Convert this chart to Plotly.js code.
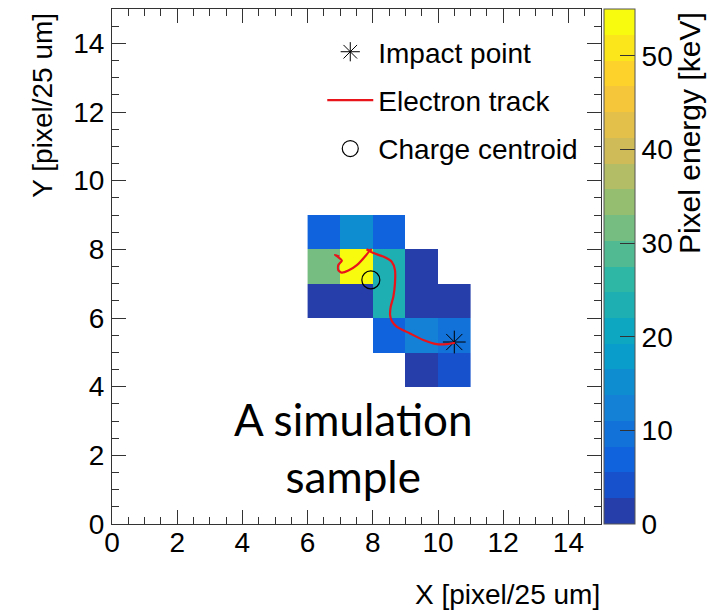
<!DOCTYPE html>
<html>
<head>
<meta charset="utf-8">
<script src="https://cdn.plot.ly/plotly-3.0.1.min.js"></script>
<style>html,body{margin:0;padding:0;background:#fff;}#chart{width:710px;height:611px;}</style>
</head>
<body>
<div id="chart"></div>
<script>
// ---- data ----
const pixelX = [6.5, 7.5, 8.5, 9.5, 10.5];
const pixelY = [4.5, 5.5, 6.5, 7.5, 8.5];
const pixelEnergy = [
  [null, null, null, 1.5, 4],
  [null, null, 7, 12.5, 9],
  [1.5, 1.5, 23.5, 1.5, 1.5],
  [31.5, 54, 23.5, 1.5, null],
  [7, 16, 7, null, null]
];
const trackX = [10.52, 10.27, 9.96, 9.55, 9.14, 8.73, 8.58, 8.53, 8.55, 8.63, 8.68, 8.68, 8.58, 8.32, 8.02, 7.89, 7.97, 7.89, 7.81, 7.89, 7.76, 7.51, 7.25, 7.05, 6.94, 6.94, 7.05, 6.94, 6.84, 6.97];
const trackY = [5.28, 5.24, 5.24, 5.36, 5.55, 5.75, 5.92, 6.09, 6.33, 6.62, 7.01, 7.40, 7.64, 7.79, 7.89, 7.96, 8.00, 7.96, 8.00, 7.96, 7.79, 7.54, 7.38, 7.32, 7.40, 7.54, 7.67, 7.77, 7.84, 7.79];
const impactX = [10.5];
const impactY = [5.3];
const centroidX = [7.94];
const centroidY = [7.11];
const colorTicks = [0, 10, 20, 30, 40, 50];
const axisTicks = [0, 2, 4, 6, 8, 10, 12, 14];
const zMax = 55;
const nContours = 20;

// ROOT kBird palette stops
const birdR = [0.2082, 0.0592, 0.0780, 0.0232, 0.1802, 0.5301, 0.8186, 0.9956, 0.9764];
const birdG = [0.1664, 0.3599, 0.5041, 0.6419, 0.7178, 0.7492, 0.7328, 0.7862, 0.9832];
const birdB = [0.5293, 0.8684, 0.8385, 0.7914, 0.6425, 0.4662, 0.3499, 0.1968, 0.0539];

function bird(t) {
  t = Math.max(0, Math.min(1, t));
  const s = t * (birdR.length - 1);
  const i = Math.min(Math.floor(s), birdR.length - 2);
  const f = s - i;
  const c = a => Math.round(255 * (a[i] + (a[i + 1] - a[i]) * f));
  return 'rgb(' + c(birdR) + ',' + c(birdG) + ',' + c(birdB) + ')';
}
const colorscale = [];
for (let i = 0; i < nContours; i++) {
  const col = bird((i + 0.99) / nContours);
  colorscale.push([i / nContours, col]);
  colorscale.push([(i + 1) / nContours, col]);
}

const FONT = 'Liberation Sans, Arial, sans-serif';
const FS = 28;

const traces = [
  {
    type: 'heatmap', x: pixelX, y: pixelY, z: pixelEnergy,
    zmin: 0, zmax: zMax, colorscale: colorscale, showscale: true,
    hoverongaps: false, showlegend: false,
    colorbar: {
      x: 1.006, xanchor: 'left', xpad: 0, ypad: 0, y: 0.5, yanchor: 'middle',
      len: 1, lenmode: 'fraction', thickness: 31, thicknessmode: 'pixels',
      outlinewidth: 1, outlinecolor: '#555',
      tickmode: 'array', tickvals: colorTicks, ticktext: colorTicks.map(String),
      ticks: 'inside', ticklen: 15, tickcolor: '#333', tickwidth: 1,
      tickfont: {family: FONT, size: FS, color: '#000'},
      title: {text: ''}
    }
  },
  {
    type: 'scatter', mode: 'markers', x: impactX, y: impactY, name: 'Impact point',
    legendgroup: 'a', legendrank: 1,
    marker: {symbol: 'asterisk-open', size: 19, color: '#000', line: {color: '#000', width: 1}}
  },
  {
    type: 'scatter', mode: 'lines', x: trackX, y: trackY, name: 'Electron track',
    legendgroup: 'b', legendrank: 2,
    line: {color: '#e8141a', width: 2.2, shape: 'spline', smoothing: 0.6}
  },
  {
    type: 'scatter', mode: 'markers', x: centroidX, y: centroidY, name: 'Charge centroid',
    legendgroup: 'c', legendrank: 3,
    marker: {symbol: 'circle-open', size: 18, color: '#000', line: {color: '#222', width: 1.2}}
  }
];

const axisBase = {
  range: [0, 15], showgrid: false, zeroline: false, showline: true,
  linecolor: '#333', linewidth: 1, mirror: 'ticks',
  ticks: 'inside', ticklen: 14, tickcolor: '#333', tickwidth: 1,
  tickmode: 'array', tickvals: axisTicks,
  tickfont: {family: FONT, size: FS, color: '#000'},
  minor: {dtick: 0.5, ticks: 'inside', ticklen: 7, tickcolor: '#333', showgrid: false},
  fixedrange: true
};

const layout = {
  width: 710, height: 611,
  margin: {l: 112, r: 109, t: 9, b: 87},
  paper_bgcolor: '#fff', plot_bgcolor: '#fff',
  font: {family: FONT, size: FS, color: '#000'},
  xaxis: Object.assign({}, axisBase, {title: {text: ''}, ticklabelstandoff: -7}),
  yaxis: Object.assign({}, axisBase, {title: {text: ''}, ticklabelstandoff: 1}),
  showlegend: true,
  legend: {
    x: 0.43, xanchor: 'left', y: 0.965, yanchor: 'top',
    bgcolor: 'rgba(0,0,0,0)', borderwidth: 0,
    font: {family: FONT, size: FS, color: '#000'},
    tracegroupgap: 9, itemwidth: 46, traceorder: 'grouped'
  },
  annotations: [
    {text: 'X [pixel/25 um]', xref: 'paper', yref: 'paper', x: 1.003, xanchor: 'right',
     y: -0.137, yanchor: 'middle', showarrow: false, font: {family: FONT, size: FS}},
    {text: 'Y [pixel/25 um]', xref: 'paper', yref: 'paper', x: -0.143, xanchor: 'center',
     y: 0.996, yanchor: 'top', textangle: -90, showarrow: false, font: {family: FONT, size: FS}},
    {text: 'Pixel energy [keV]', xref: 'paper', yref: 'paper', x: 1.18, xanchor: 'center',
     y: 0.998, yanchor: 'top', textangle: -90, showarrow: false, font: {family: FONT, size: 30}},
    {text: 'A simulation<br>sample', xref: 'paper', yref: 'paper', x: 0.493, xanchor: 'center',
     y: 0.148, yanchor: 'middle', showarrow: false,
     font: {family: 'Lato, Noto Sans, sans-serif', size: 44, color: '#000'}}
  ]
};

Plotly.newPlot('chart', traces, layout, {displayModeBar: false, staticPlot: true});
</script>
</body>
</html>
